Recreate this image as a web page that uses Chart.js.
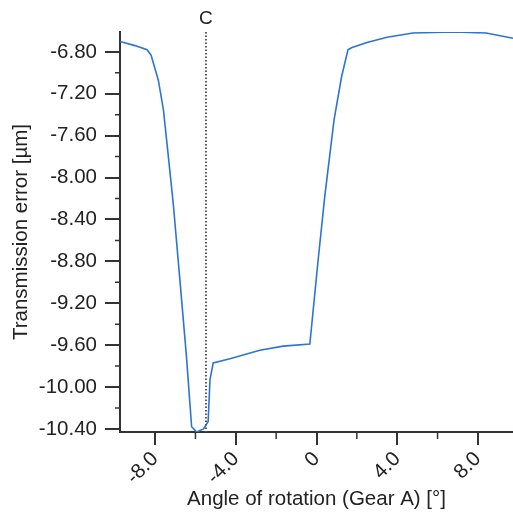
<!DOCTYPE html>
<html>
<head>
<meta charset="utf-8">
<script src="https://cdn.jsdelivr.net/npm/chart.js@4"></script>
<style>
  body { margin: 0; background: #fff; }
  canvas { display: block; }
</style>
</head>
<body>
<canvas id="chart" width="513" height="516"></canvas>
<script>
// angle of rotation (deg) and transmission error (um)
const angle = [-9.74, -9.0, -8.4, -8.2, -7.84, -7.59, -7.43, -7.1, -6.77, -6.45, -6.19, -5.94, -5.6, -5.37, -5.28, -5.12, -4.29, -2.81, -1.65, -0.33, 0.08, 0.41, 0.87, 1.24, 1.56, 1.73, 2.5, 3.5, 4.78, 6.76, 8.41, 9.74];
const transErr = [-6.70, -6.74, -6.78, -6.83, -7.07, -7.35, -7.64, -8.25, -8.98, -9.70, -10.38, -10.43, -10.40, -10.33, -9.93, -9.77, -9.73, -9.65, -9.61, -9.59, -8.79, -8.18, -7.45, -7.04, -6.78, -6.76, -6.71, -6.66, -6.62, -6.61, -6.62, -6.67];

const xTicks = [-8, -4, 0, 4, 8];
const xMinor = [-6, -2, 2, 6];
const yTicks = [-10.4, -10.0, -9.6, -9.2, -8.8, -8.4, -8.0, -7.6, -7.2, -6.8];
const yMinor = [-10.2, -9.8, -9.4, -9.0, -8.6, -8.2, -7.8, -7.4, -7.0, -6.6];
const markerAngle = -5.48;
const markerLabel = 'C';

const points = angle.map((a, i) => ({ x: a, y: transErr[i] }));
const axisColor = '#333';

// small ticks between the labelled ones + the dotted "C" marker
const extras = {
    id: 'extras',
    afterDraw(chart) {
        const ctx = chart.ctx;
        const xs = chart.scales.x, ys = chart.scales.y;
        const area = chart.chartArea;
        ctx.save();
        ctx.strokeStyle = axisColor;
        ctx.lineWidth = 1.5;
        ctx.beginPath();
        for (const v of xMinor) {
            const px = xs.getPixelForValue(v);
            ctx.moveTo(px, area.bottom);
            ctx.lineTo(px, area.bottom + 7);
        }
        for (const v of yMinor) {
            const py = ys.getPixelForValue(v);
            if (py < area.top) continue;
            ctx.moveTo(area.left, py);
            ctx.lineTo(area.left - 5, py);
        }
        ctx.stroke();

        const mx = xs.getPixelForValue(markerAngle);
        ctx.strokeStyle = '#555';
        ctx.lineWidth = 2;
        ctx.setLineDash([1.5, 2]);
        ctx.beginPath();
        ctx.moveTo(mx, area.top);
        ctx.lineTo(mx, area.bottom);
        ctx.stroke();
        ctx.setLineDash([]);
        ctx.fillStyle = '#222';
        ctx.font = '19px "Liberation Sans", Arial, sans-serif';
        ctx.textAlign = 'center';
        ctx.textBaseline = 'bottom';
        ctx.fillText(markerLabel, mx, area.top - 4);
        ctx.restore();
    }
};

const font = { family: '"Liberation Sans", Arial, sans-serif', size: 20.5 };

new Chart(document.getElementById('chart'), {
    type: 'line',
    data: {
        datasets: [{
            data: points,
            borderColor: '#2b74d6',
            borderWidth: 1.6,
            pointRadius: 0,
            tension: 0,
            fill: false
        }]
    },
    options: {
        responsive: false,
        animation: false,
        layout: { padding: { top: 32, right: 0, left: 0, bottom: 0 } },
        plugins: { legend: { display: false }, tooltip: { enabled: false } },
        scales: {
            x: {
                type: 'linear',
                min: -9.74,
                max: 9.74,
                afterBuildTicks: s => { s.ticks = xTicks.map(v => ({ value: v })); },
                afterFit: s => { s.height = 84; },
                grid: { drawOnChartArea: false, tickLength: 13, color: axisColor, lineWidth: 2 },
                border: { display: true, color: axisColor, width: 2 },
                ticks: {
                    color: '#222',
                    font: font,
                    minRotation: 45,
                    maxRotation: 45,
                    padding: 2,
                    callback: v => v === 0 ? '0' : v.toFixed(1)
                },
                title: {
                    display: true,
                    text: 'Angle of rotation (Gear A) [°]',
                    color: '#222',
                    font: font,
                    padding: { top: 0, bottom: 4 }
                }
            },
            y: {
                type: 'linear',
                min: -10.43,
                max: -6.61,
                afterBuildTicks: s => { s.ticks = yTicks.map(v => ({ value: v })); },
                afterFit: s => { s.width = 120; },
                grid: { drawOnChartArea: false, tickLength: 15, color: axisColor, lineWidth: 2 },
                border: { display: true, color: axisColor, width: 2 },
                ticks: {
                    color: '#222',
                    font: font,
                    padding: 8,
                    callback: v => v.toFixed(2)
                },
                title: {
                    display: true,
                    text: 'Transmission error [µm]',
                    color: '#222',
                    font: font,
                    padding: { top: 9, bottom: 0 }
                }
            }
        }
    },
    plugins: [extras]
});
</script>
</body>
</html>
